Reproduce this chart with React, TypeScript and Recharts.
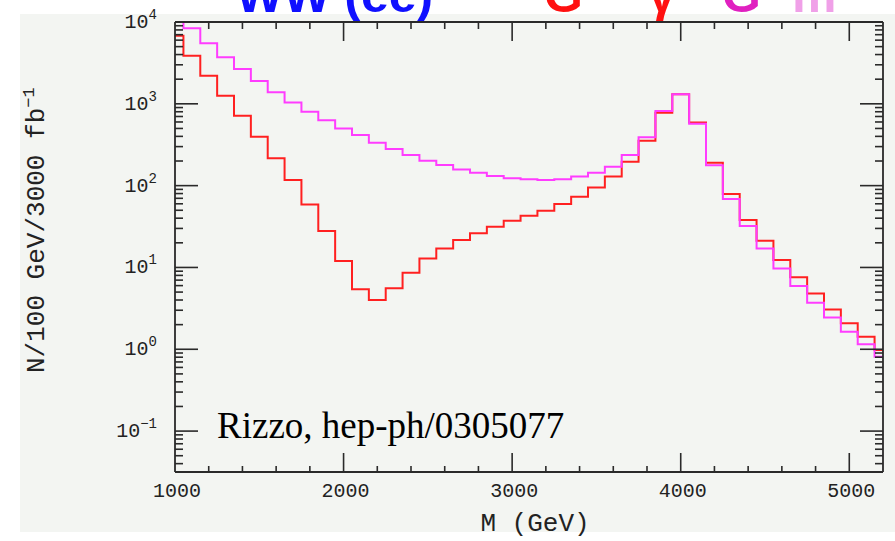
import React from 'react';
import { LineChart, Line, XAxis, YAxis } from 'recharts';

// Bin centres (GeV), 100 GeV bins
const massGeV = [
  1000, 1100, 1200, 1300, 1400, 1500, 1600, 1700, 1800, 1900,
  2000, 2100, 2200, 2300, 2400, 2500, 2600, 2700, 2800, 2900,
  3000, 3100, 3200, 3300, 3400, 3500, 3600, 3700, 3800, 3900,
  4000, 4100, 4200, 4300, 4400, 4500, 4600, 4700, 4800, 4900,
  5000, 5100, 5200,
];

const redCounts = [
  6800, 3870, 2210, 1256, 716, 396, 216, 117, 59, 27.9,
  12.0, 5.4, 4.0, 5.56, 8.6, 12.9, 17.1, 21.6, 26.1, 31.4,
  37.2, 42.8, 49.3, 59.6, 73, 95, 129, 196, 354, 778,
  1306, 590, 191, 78.9, 37.9, 21.2, 12.3, 7.57, 4.82, 3.07,
  2.08, 1.42, 0.98,
];

const magentaCounts = [
  11000, 8380, 5500, 3700, 2660, 1900, 1380, 1040, 800, 628,
  500, 416, 335, 280, 237, 201, 179, 158, 144, 131,
  123, 120, 117, 120, 129, 144, 170, 237, 389, 817,
  1306, 570, 177, 68.5, 32, 17.1, 9.7, 5.93, 3.71, 2.45,
  1.64, 1.15, 0.81,
];

const xTickValues = [
  1000, 1200, 1400, 1600, 1800, 2000, 2200, 2400, 2600, 2800, 3000,
  3200, 3400, 3600, 3800, 4000, 4200, 4400, 4600, 4800, 5000,
];
const xMajorLabels = ['1000', '2000', '3000', '4000', '5000'];

const yMajorTicks = [0.1, 1, 10, 100, 1000, 10000];
const yMajorExponents = ['\u22121', '0', '1', '2', '3', '4'];
const yDecades = [0.01, 0.1, 1, 10, 100, 1000];
const yMinorMultipliers = [2, 3, 4, 5, 6, 7, 8, 9];

const Y_MIN = 0.03162;
const Y_MAX = 10000;

const data = massGeV.map((m, i) => ({ m, red: redCounts[i], magenta: magentaCounts[i] }));

const yMinorTicks: number[] = [];
yDecades.forEach((d) => yMinorMultipliers.forEach((k) => {
  const v = +(d * k).toPrecision(6);
  if (v > Y_MIN && v < Y_MAX) yMinorTicks.push(v);
}));
const yAllTicks = [...yMajorTicks, ...yMinorTicks].sort((a, b) => a - b);

const isMajorY = (v: number) => {
  const l = Math.log10(v);
  return Math.abs(l - Math.round(l)) < 1e-6;
};
const isMajorX = (v: number) => v % 1000 === 0;

const FRAME = '#2a2a2a';
const MONO = '"Liberation Mono", "DejaVu Sans Mono", monospace';

const LeftTick = (props: any) => {
  const { x, y, payload } = props;
  const v = payload.value as number;
  const major = isMajorY(v);
  const idx = yMajorTicks.findIndex((t) => Math.abs(Math.log10(t) - Math.log10(v)) < 1e-6);
  return (
    <g>
      <line x1={x} x2={x + (major ? 23 : 8)} y1={y} y2={y} stroke={FRAME} strokeWidth={1.6} />
      {major && idx >= 0 && (
        <text x={157} y={y + 6} textAnchor="end" fontFamily={MONO} fontSize={20} fill="#222">
          <tspan>10</tspan>
          <tspan dy={-9} fontSize={14}>{yMajorExponents[idx]}</tspan>
        </text>
      )}
    </g>
  );
};

const RightTick = (props: any) => {
  const { x, y, payload } = props;
  const major = isMajorY(payload.value);
  return <line x1={x} x2={x - (major ? 23 : 8)} y1={y} y2={y} stroke={FRAME} strokeWidth={1.6} />;
};

const BottomTick = (props: any) => {
  const { x, y, payload } = props;
  const v = payload.value as number;
  const major = isMajorX(v);
  const idx = v / 1000 - 1;
  return (
    <g>
      {v > 1000 && (
        <line x1={x} x2={x} y1={y} y2={y - (major ? 19 : 6)} stroke={FRAME} strokeWidth={1.6} />
      )}
      {major && (
        <text x={x + 2} y={y + 25} textAnchor="middle" fontFamily={MONO} fontSize={20} fill="#222">
          {xMajorLabels[idx]}
        </text>
      )}
    </g>
  );
};

const TopTick = (props: any) => {
  const { x, y, payload } = props;
  const v = payload.value as number;
  if (v <= 1000) return <g />;
  const major = isMajorX(v);
  return <line x1={x} x2={x} y1={y} y2={y + (major ? 19 : 7)} stroke={FRAME} strokeWidth={1.6} />;
};

export default function App() {
  return (
    <div style={{ position: 'absolute', left: 0, top: 0, width: 895, height: 541, overflow: 'hidden', background: '#ffffff' }}>
      <div style={{ position: 'absolute', left: 20, top: 14, width: 875, height: 518, background: '#f3f5f2' }} />
      <svg width={895} height={541} style={{ position: 'absolute', left: 0, top: 0 }}>
        <text x={236} y={12} fontFamily='"Liberation Sans", Arial, sans-serif' fontWeight="bold" fontSize={50} fill="#1010ff">WW (ee)</text>
        <text x={544} y={12} fontFamily='"Liberation Sans", Arial, sans-serif' fontWeight="bold" fontSize={50} fill="#ff1010">G</text>
        <text x={648} y={12} fontFamily='"Liberation Sans", Arial, sans-serif' fontWeight="bold" fontSize={50} fill="#ff1010">γ</text>
        <text x={722} y={12} fontFamily='"Liberation Sans", Arial, sans-serif' fontWeight="bold" fontSize={50} fill="#e020c0">G</text>
        <text x={792} y={12} fontFamily='"Liberation Sans", Arial, sans-serif' fontWeight="bold" fontSize={50} fill="#f0a0e8">m</text>
      </svg>
      <div style={{ position: 'absolute', left: 0, top: 0 }}>
        <LineChart width={895} height={541} data={data} margin={{ top: 0, right: 0, bottom: 29, left: 0 }}>
          <XAxis
            xAxisId="bottom"
            dataKey="m"
            type="number"
            domain={[1000, 5200]}
            allowDataOverflow
            ticks={xTickValues}
            interval={0}
            height={40}
            tickSize={0}
            tickMargin={0}
            tickLine={false}
            axisLine={{ stroke: FRAME, strokeWidth: 1.8 }}
            tick={<BottomTick />}
          />
          <XAxis
            xAxisId="top"
            orientation="top"
            dataKey="m"
            type="number"
            domain={[1000, 5200]}
            allowDataOverflow
            ticks={xTickValues}
            interval={0}
            height={22}
            tickSize={0}
            tickMargin={0}
            tickLine={false}
            axisLine={{ stroke: FRAME, strokeWidth: 1.8 }}
            tick={<TopTick />}
          />
          <YAxis
            yAxisId="left"
            scale="log"
            type="number"
            domain={[Y_MIN, Y_MAX]}
            allowDataOverflow
            ticks={yAllTicks}
            interval={0}
            width={175}
            tickSize={0}
            tickMargin={0}
            tickLine={false}
            axisLine={{ stroke: FRAME, strokeWidth: 1.8 }}
            tick={<LeftTick />}
          />
          <YAxis
            yAxisId="right"
            orientation="right"
            scale="log"
            type="number"
            domain={[Y_MIN, Y_MAX]}
            allowDataOverflow
            ticks={yAllTicks}
            interval={0}
            width={12}
            tickSize={0}
            tickMargin={0}
            tickLine={false}
            axisLine={{ stroke: FRAME, strokeWidth: 1.8 }}
            tick={<RightTick />}
          />
          <Line
            xAxisId="bottom"
            yAxisId="left"
            dataKey="red"
            type="step"
            stroke="#ff2020"
            strokeWidth={2}
            dot={false}
            activeDot={false}
            isAnimationActive={false}
          />
          <Line
            xAxisId="bottom"
            yAxisId="left"
            dataKey="magenta"
            type="step"
            stroke="#ff3cff"
            strokeWidth={2}
            dot={false}
            activeDot={false}
            isAnimationActive={false}
          />
        </LineChart>
      </div>
      <svg width={895} height={541} style={{ position: 'absolute', left: 0, top: 0, pointerEvents: 'none' }}>
        <text transform="translate(44,373) rotate(-90)" fontFamily={MONO} fontSize={26} fill="#222">
          N/100 GeV/3000 fb<tspan dy={-10} fontSize={17}>{'\u22121'}</tspan>
        </text>
        <text x={535} y={531} textAnchor="middle" fontFamily={MONO} fontSize={26} fill="#222">M (GeV)</text>
        <text x={217} y={438} fontFamily='"Liberation Serif", "Times New Roman", serif' fontSize={37} fill="#000">
          Rizzo, hep-ph/0305077
        </text>
      </svg>
    </div>
  );
}
